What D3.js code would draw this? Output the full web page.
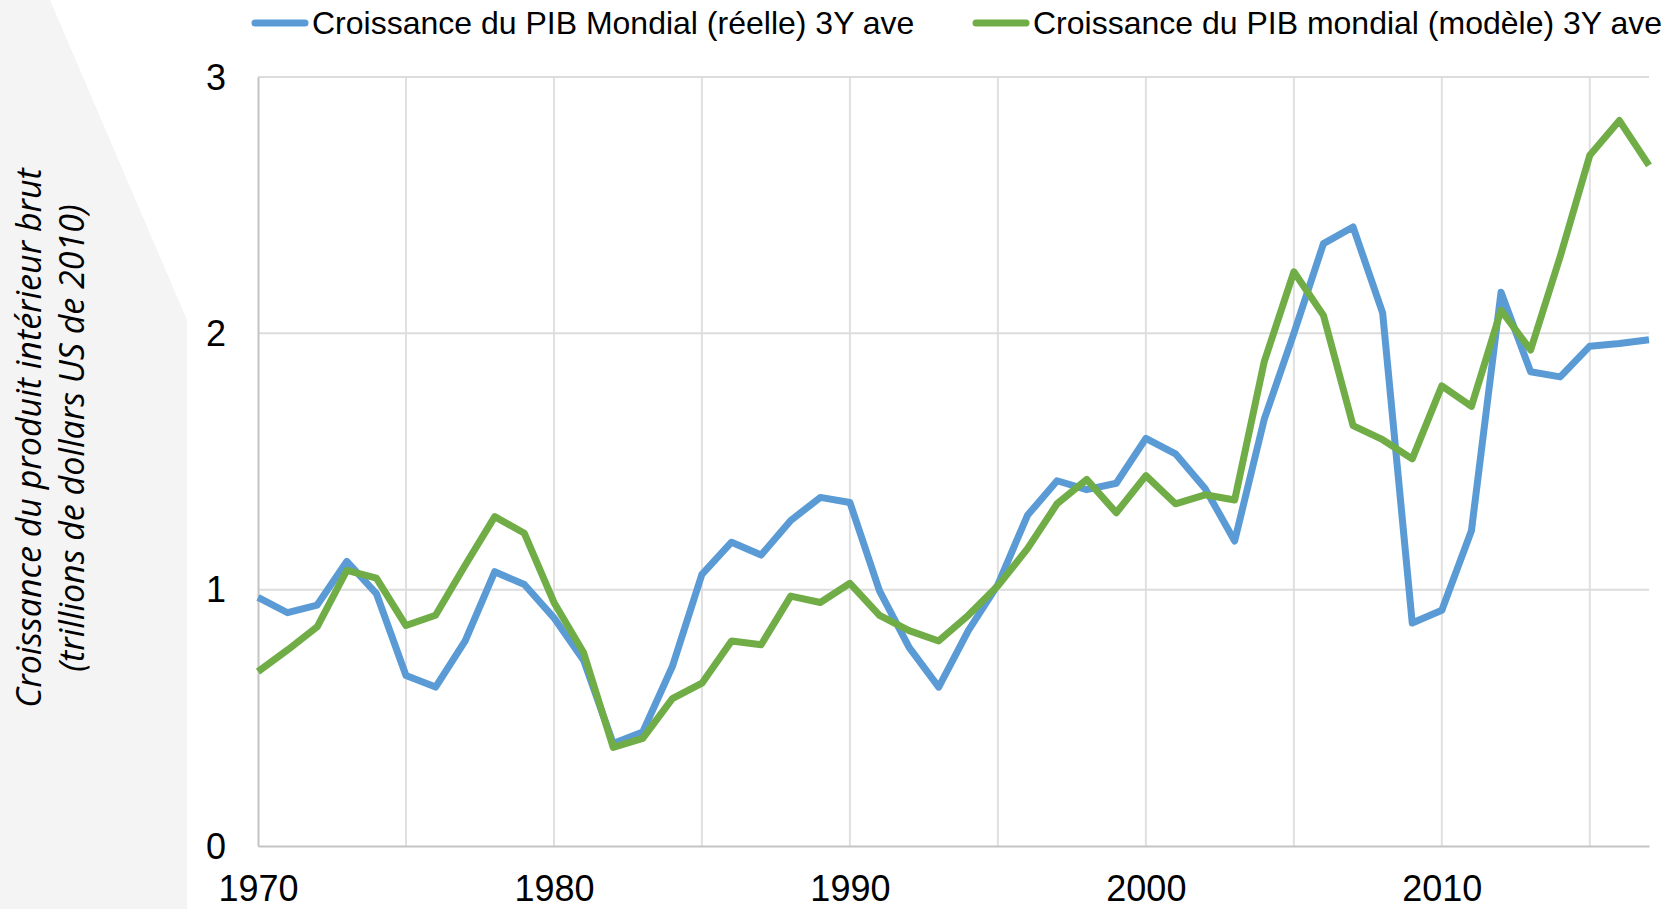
<!DOCTYPE html>
<html>
<head>
<meta charset="utf-8">
<script src="https://cdn.jsdelivr.net/npm/d3@7"></script>
<style>
body { margin:0; background:#fff; }
svg { display:block; }
</style>
</head>
<body>
<div id="chart"></div>
<script>
var years = d3.range(1970, 2018);

// Croissance du PIB Mondial (réelle) 3Y ave
var reelle = [0.97, 0.91, 0.94, 1.11, 0.985, 0.665, 0.62, 0.80, 1.07, 1.02,
	0.89, 0.725, 0.40, 0.445, 0.70, 1.06, 1.185, 1.135, 1.27, 1.36,
	1.34, 0.995, 0.775, 0.62, 0.84, 1.02, 1.29, 1.425, 1.39, 1.415,
	1.59, 1.53, 1.395, 1.19, 1.665, 2.0, 2.35, 2.415, 2.08, 0.87,
	0.92, 1.23, 2.16, 1.85, 1.83, 1.95, 1.96, 1.975];

// Croissance du PIB mondial (modèle) 3Y ave
var modele = [0.68, 0.765, 0.855, 1.075, 1.045, 0.86, 0.90, 1.095, 1.285, 1.22,
	0.95, 0.755, 0.385, 0.42, 0.575, 0.635, 0.80, 0.785, 0.975, 0.95,
	1.025, 0.90, 0.84, 0.80, 0.90, 1.015, 1.16, 1.335, 1.43, 1.30,
	1.445, 1.335, 1.37, 1.35, 1.89, 2.24, 2.07, 1.64, 1.585, 1.51,
	1.795, 1.715, 2.09, 1.935, 2.30, 2.695, 2.83, 2.655];

var seriesNames = ["Croissance du PIB Mondial (réelle) 3Y ave", "Croissance du PIB mondial (modèle) 3Y ave"];
var seriesColors = ["#5b9bd5", "#70ad47"];
var xTicks = [1970, 1980, 1990, 2000, 2010];
var xGrid = [1975, 1980, 1985, 1990, 1995, 2000, 2005, 2010, 2015];
var yTicks = [0, 1, 2, 3];
var yTitle = ["Croissance du produit intérieur brut", "(trillions de dollars US de 2010)"];

var W = 1676, H = 909;
var margin = {top:77, right:27, bottom:63, left:258};

var svg = d3.select('#chart').append('svg')
	.attr("width", W)
	.attr("height", H);

// slide background on the left
svg.append("path")
	.attr("d", "M0,0 L50,0 L187,320 L187," + H + " L0," + H + " Z")
	.attr("fill", "#f4f4f4");

var xscale = d3.scaleLinear()
	.domain([1970, 2017])
	.range([margin.left, W - margin.right]);
var yscale = d3.scaleLinear()
	.domain([0, 3])
	.range([H - margin.bottom, margin.top]);

// gridlines
svg.append("g").selectAll("line")
	.data(xGrid).enter().append("line")
	.attr("x1", d => xscale(d)).attr("x2", d => xscale(d))
	.attr("y1", yscale(0)).attr("y2", yscale(3))
	.attr("stroke", "#e0e0e0").attr("stroke-width", 2);
svg.append("g").selectAll("line")
	.data([1, 2, 3]).enter().append("line")
	.attr("x1", xscale(1970)).attr("x2", xscale(2017))
	.attr("y1", d => yscale(d)).attr("y2", d => yscale(d))
	.attr("stroke", "#dcdcdc").attr("stroke-width", 2);

// axes
const yaxis = d3.axisLeft(yscale).tickValues(yTicks).tickSize(0).tickPadding(32).tickFormat(d3.format("d"));
const xaxis = d3.axisBottom(xscale).tickValues(xTicks).tickSize(0).tickPadding(31).tickFormat(d3.format("d"));

var gy = svg.append("g")
	.attr("transform", "translate(" + xscale(1970) + ",0)")
	.call(yaxis);
var gx = svg.append("g")
	.attr("transform", "translate(0," + yscale(0) + ")")
	.call(xaxis);
[gx, gy].forEach(function(g){
	g.select(".domain").attr("stroke", "#c4c4c4").attr("stroke-width", 2);
	g.selectAll("text")
		.attr("fill", "#000")
		.style("font-family", "'Liberation Sans', Arial, sans-serif")
		.style("font-size", "36px");
});
gy.selectAll("text").attr("dy", "0.34em");
gx.selectAll("text").attr("dy", "0.68em");

// lines
var line = d3.line()
	.x(function(d, i){ return xscale(years[i]) })
	.y(function(d){ return yscale(d) });

[reelle, modele].forEach(function(vals, j){
	svg.append("path")
		.datum(vals)
		.attr("d", line)
		.attr("fill", "none")
		.attr("stroke", seriesColors[j])
		.attr("stroke-width", 7)
		.attr("stroke-linejoin", "round");
});

// legend
var legX = [252, 973];
seriesNames.forEach(function(name, j){
	var lg = svg.append("g").attr("transform", "translate(" + legX[j] + ",23)");
	lg.append("line")
		.attr("x1", 3).attr("x2", 53)
		.attr("stroke", seriesColors[j])
		.attr("stroke-width", 7)
		.attr("stroke-linecap", "round");
	lg.append("text")
		.attr("x", 60).attr("y", 11)
		.style("font-family", "'Liberation Sans', Arial, sans-serif")
		.style("font-size", "32px")
		.attr("fill", "#000")
		.text(name);
});

// y axis title
var title = svg.append("text")
	.attr("transform", "translate(0,438) rotate(-90)")
	.attr("text-anchor", "middle")
	.style("font-family", "'Open Sans', sans-serif")
	.style("font-style", "italic")
	.style("font-size", "34px")
	.attr("fill", "#000");
yTitle.forEach(function(t, i){
	title.append("tspan")
		.attr("x", 0)
		.attr("y", 41 + i * 43)
		.text(t);
});
</script>
</body>
</html>
